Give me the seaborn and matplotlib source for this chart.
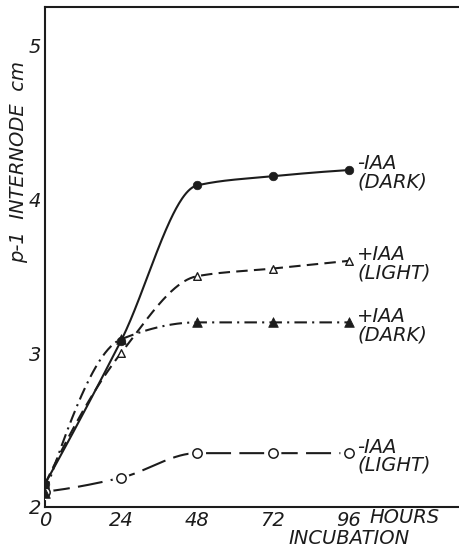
import numpy as np
import pandas as pd
import matplotlib
matplotlib.use("Agg")
import matplotlib.pyplot as plt
import matplotlib.transforms as mtransforms
import seaborn as sns

# values (hours of incubation vs p-1 internode length, cm)
hours = [0, 24, 48, 72, 96]
minus_iaa_dark = [2.15, 3.08, 4.09, 4.15, 4.19]
plus_iaa_light = [2.15, 3.00, 3.50, 3.55, 3.60]
plus_iaa_dark = [2.09, 3.09, 3.20, 3.20, 3.20]
minus_iaa_light = [2.10, 2.19, 2.35, 2.35, 2.35]

x_ticks = [0, 24, 48, 72, 96]
y_ticks = [2, 3, 4, 5]
series_labels = ["-IAA\n(DARK)", "+IAA\n(LIGHT)", "+IAA\n(DARK)", "-IAA\n(LIGHT)"]

INK = "#1c1c1c"


def pchip(x, y, xs):
    # monotone cubic through the measured points, only used to draw a smooth curve
    x = np.asarray(x, float)
    y = np.asarray(y, float)
    h = np.diff(x)
    d = np.diff(y) / h
    m = np.zeros_like(y)
    for k in range(1, len(x) - 1):
        if d[k - 1] * d[k] > 0:
            w1 = 2 * h[k] + h[k - 1]
            w2 = h[k] + 2 * h[k - 1]
            m[k] = (w1 + w2) / (w1 / d[k - 1] + w2 / d[k])
    m[0] = ((2 * h[0] + h[1]) * d[0] - h[0] * d[1]) / (h[0] + h[1])
    if np.sign(m[0]) != np.sign(d[0]):
        m[0] = 0
    m[-1] = ((2 * h[-1] + h[-2]) * d[-1] - h[-1] * d[-2]) / (h[-1] + h[-2])
    if np.sign(m[-1]) != np.sign(d[-1]):
        m[-1] = 0
    idx = np.clip(np.searchsorted(x, xs) - 1, 0, len(x) - 2)
    t = (xs - x[idx]) / h[idx]
    h00 = 2 * t**3 - 3 * t**2 + 1
    h10 = t**3 - 2 * t**2 + t
    h01 = -2 * t**3 + 3 * t**2
    h11 = t**3 - t**2
    return h00 * y[idx] + h10 * h[idx] * m[idx] + h01 * y[idx + 1] + h11 * h[idx] * m[idx + 1]


sns.set_theme(style="white")
plt.rcParams["font.family"] = ["DejaVu Sans"]
plt.rcParams["font.style"] = "italic"
plt.rcParams["text.color"] = INK

fig = plt.figure(figsize=(4.59, 5.49), dpi=100)
ax = fig.add_axes([45 / 459, 1 - 507 / 549, 1 - 45 / 459, 500 / 549])

xs = np.linspace(0, 96, 300)
styles = [
    (minus_iaa_dark, "-"),
    (plus_iaa_light, (0, (5.5, 3))),
    (plus_iaa_dark, (0, (6, 2.5, 1, 2.5))),
    (minus_iaa_light, (0, (12, 4))),
]
for vals, ls in styles:
    curve = pd.DataFrame({"h": xs, "v": pchip(hours, vals, xs)})
    sns.lineplot(data=curve, x="h", y="v", ax=ax, color=INK, lw=1.5,
                 linestyle=ls, estimator=None, sort=False)

pts = pd.DataFrame({"h": hours, "a": minus_iaa_dark, "b": plus_iaa_light,
                    "c": plus_iaa_dark, "d": minus_iaa_light})
# white halo so the line breaks around the open circles
sns.scatterplot(data=pts, x="h", y="d", ax=ax, s=150, color="white",
                edgecolor="none", zorder=3)
sns.scatterplot(data=pts, x="h", y="d", ax=ax, s=45, marker="o",
                facecolor="white", edgecolor=INK, linewidth=1.1, zorder=4)
sns.scatterplot(data=pts, x="h", y="b", ax=ax, s=30, marker="^",
                facecolor="white", edgecolor=INK, linewidth=1.0, zorder=4)
sns.scatterplot(data=pts, x="h", y="a", ax=ax, s=38, marker="o",
                color=INK, edgecolor=INK, zorder=5)
sns.scatterplot(data=pts, x="h", y="c", ax=ax, s=48, marker="^",
                color=INK, edgecolor=INK, zorder=5)

# series labels to the right of the last point
for vals, lab in zip([minus_iaa_dark, plus_iaa_light, plus_iaa_dark, minus_iaa_light],
                     series_labels):
    ax.text(98.6, vals[-1], lab, ha="left", va="center", fontsize=14,
            linespacing=0.95, style="italic",
            transform=ax.transData + mtransforms.ScaledTranslation(0, -3 / 100, fig.dpi_scale_trans))

ax.set_xlim(0, 130.8)
ax.set_ylim(2, 5.25)
ax.set_xticks(x_ticks)
ax.set_yticks(y_ticks)
ax.set_xticklabels([str(t) for t in x_ticks], fontsize=14, style="italic")
ax.set_yticklabels([str(t) for t in y_ticks], fontsize=14, style="italic")
ax.tick_params(axis="y", direction="in", length=11, width=1.3, pad=3, colors=INK)
ax.tick_params(axis="x", direction="in", length=8.5, width=1.3, pad=3, colors=INK)

for side in ["left", "bottom", "top"]:
    ax.spines[side].set_color(INK)
    ax.spines[side].set_linewidth(1.5)
ax.spines["right"].set_visible(False)

ax.set_xlabel("")
ax.set_ylabel("p-1  INTERNODE  cm", fontsize=14, style="italic", color=INK)
ax.yaxis.set_label_coords(-0.041, 0.69)

blend = mtransforms.blended_transform_factory(ax.transData, ax.transAxes)
ax.text(102.4, -0.021, "HOURS", ha="left", va="center", fontsize=14,
        style="italic", transform=blend)
ax.text(96.2, -0.062, "INCUBATION", ha="center", va="center", fontsize=14,
        style="italic", transform=blend)

fig.savefig("out.png", dpi=100, facecolor="white")
